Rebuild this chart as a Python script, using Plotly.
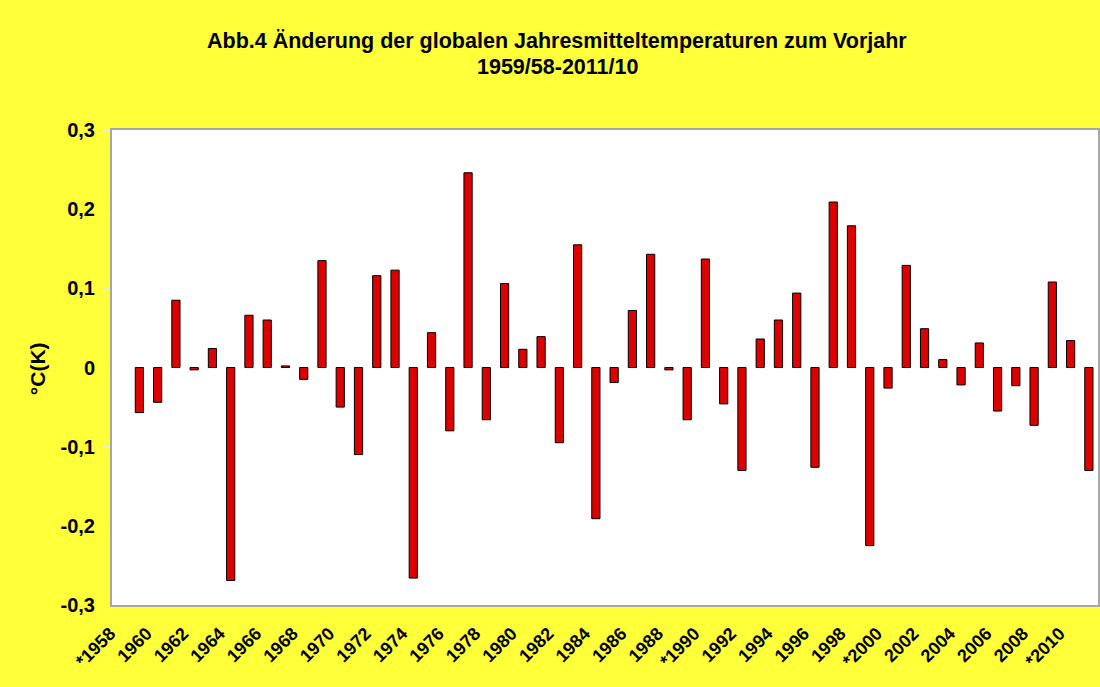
import plotly.graph_objects as go

years = list(range(1959, 2012))
changes = [
    -0.057, -0.044, 0.085, -0.003, 0.024, -0.269, 0.066, 0.060, 0.002, -0.015,
    0.135, -0.050, -0.110, 0.116, 0.123, -0.266, 0.044, -0.080, 0.246, -0.066,
    0.106, 0.023, 0.039, -0.095, 0.155, -0.191, -0.019, 0.072, 0.143, -0.003,
    -0.066, 0.137, -0.046, -0.130, 0.036, 0.060, 0.094, -0.126, 0.209, 0.179,
    -0.225, -0.026, 0.129, 0.049, 0.010, -0.022, 0.031, -0.055, -0.023, -0.073,
    0.108, 0.034, -0.130,
]
x_tick_years = list(range(1958, 2011, 2))
x_tick_labels = [("*" + str(y)) if y in (1958, 1990, 2000, 2010) else str(y) for y in x_tick_years]
y_tick_values = [-0.3, -0.2, -0.1, 0, 0.1, 0.2, 0.3]
y_tick_labels = ["-0,3", "-0,2", "-0,1", "0", "0,1", "0,2", "0,3"]

title_line1 = "Abb.4 Änderung der globalen Jahresmitteltemperaturen zum Vorjahr"
title_line2 = "1959/58-2011/10"
y_title = "°C(K)"

FONT = "Liberation Sans, Arial, sans-serif"
YELLOW = "#FFFF3A"

fig = go.Figure()
fig.add_trace(go.Bar(
    x=years, y=changes,
    marker=dict(color="#DD0000", line=dict(color="#000000", width=1)),
    width=0.45,
))

W, H = 1100, 687
ml, mr, mt, mb = 112, 0, 130, 82

fig.update_layout(
    width=W, height=H,
    margin=dict(l=ml, r=mr, t=mt, b=mb, pad=0),
    paper_bgcolor=YELLOW, plot_bgcolor="#FFFFFF",
    showlegend=False,
    font=dict(family=FONT, color="#000000"),
    xaxis=dict(
        range=[1957.5, 2011.5], tickmode="array", tickvals=x_tick_years, ticktext=x_tick_labels,
        tickangle=-45, tickfont=dict(size=18, family=FONT, weight="bold"),
        ticklabelshift=-11, ticklabelstandoff=9,
        showgrid=False, zeroline=False, showline=True, linecolor="#A6A6A6", linewidth=2,
        mirror=True, ticks="", fixedrange=True,
    ),
    yaxis=dict(
        range=[-0.3, 0.3], tickmode="array", tickvals=y_tick_values, ticktext=y_tick_labels,
        tickfont=dict(size=20, family=FONT, weight="bold"),
        ticklabelstandoff=5,
        showgrid=False, zeroline=False, showline=True, linecolor="#A6A6A6", linewidth=2,
        mirror=True, ticks="outside", ticklen=6, tickcolor="#E6E6E6", fixedrange=True,
    ),
    annotations=[
        dict(text="<b>" + title_line1 + "</b>", xref="paper", yref="paper",
             x=(558 - ml) / (W - ml - mr), y=1 + (mt - 41) / (H - mt - mb),
             xanchor="center", yanchor="middle", showarrow=False,
             font=dict(size=21.5, family=FONT)),
        dict(text="<b>" + title_line2 + "</b>", xref="paper", yref="paper",
             x=(558 - ml) / (W - ml - mr), y=1 + (mt - 67) / (H - mt - mb),
             xanchor="center", yanchor="middle", showarrow=False,
             font=dict(size=21.5, family=FONT)),
        dict(text="<b>" + y_title + "</b>", xref="paper", yref="paper",
             x=(37 - ml) / (W - ml - mr), y=(H - mb - 369) / (H - mt - mb),
             xanchor="center", yanchor="middle", showarrow=False, textangle=-90,
             font=dict(size=21, family=FONT)),
    ],
)

fig.write_html("out.html", config={"displayModeBar": False},
               post_script="document.body.style.margin='0';")
